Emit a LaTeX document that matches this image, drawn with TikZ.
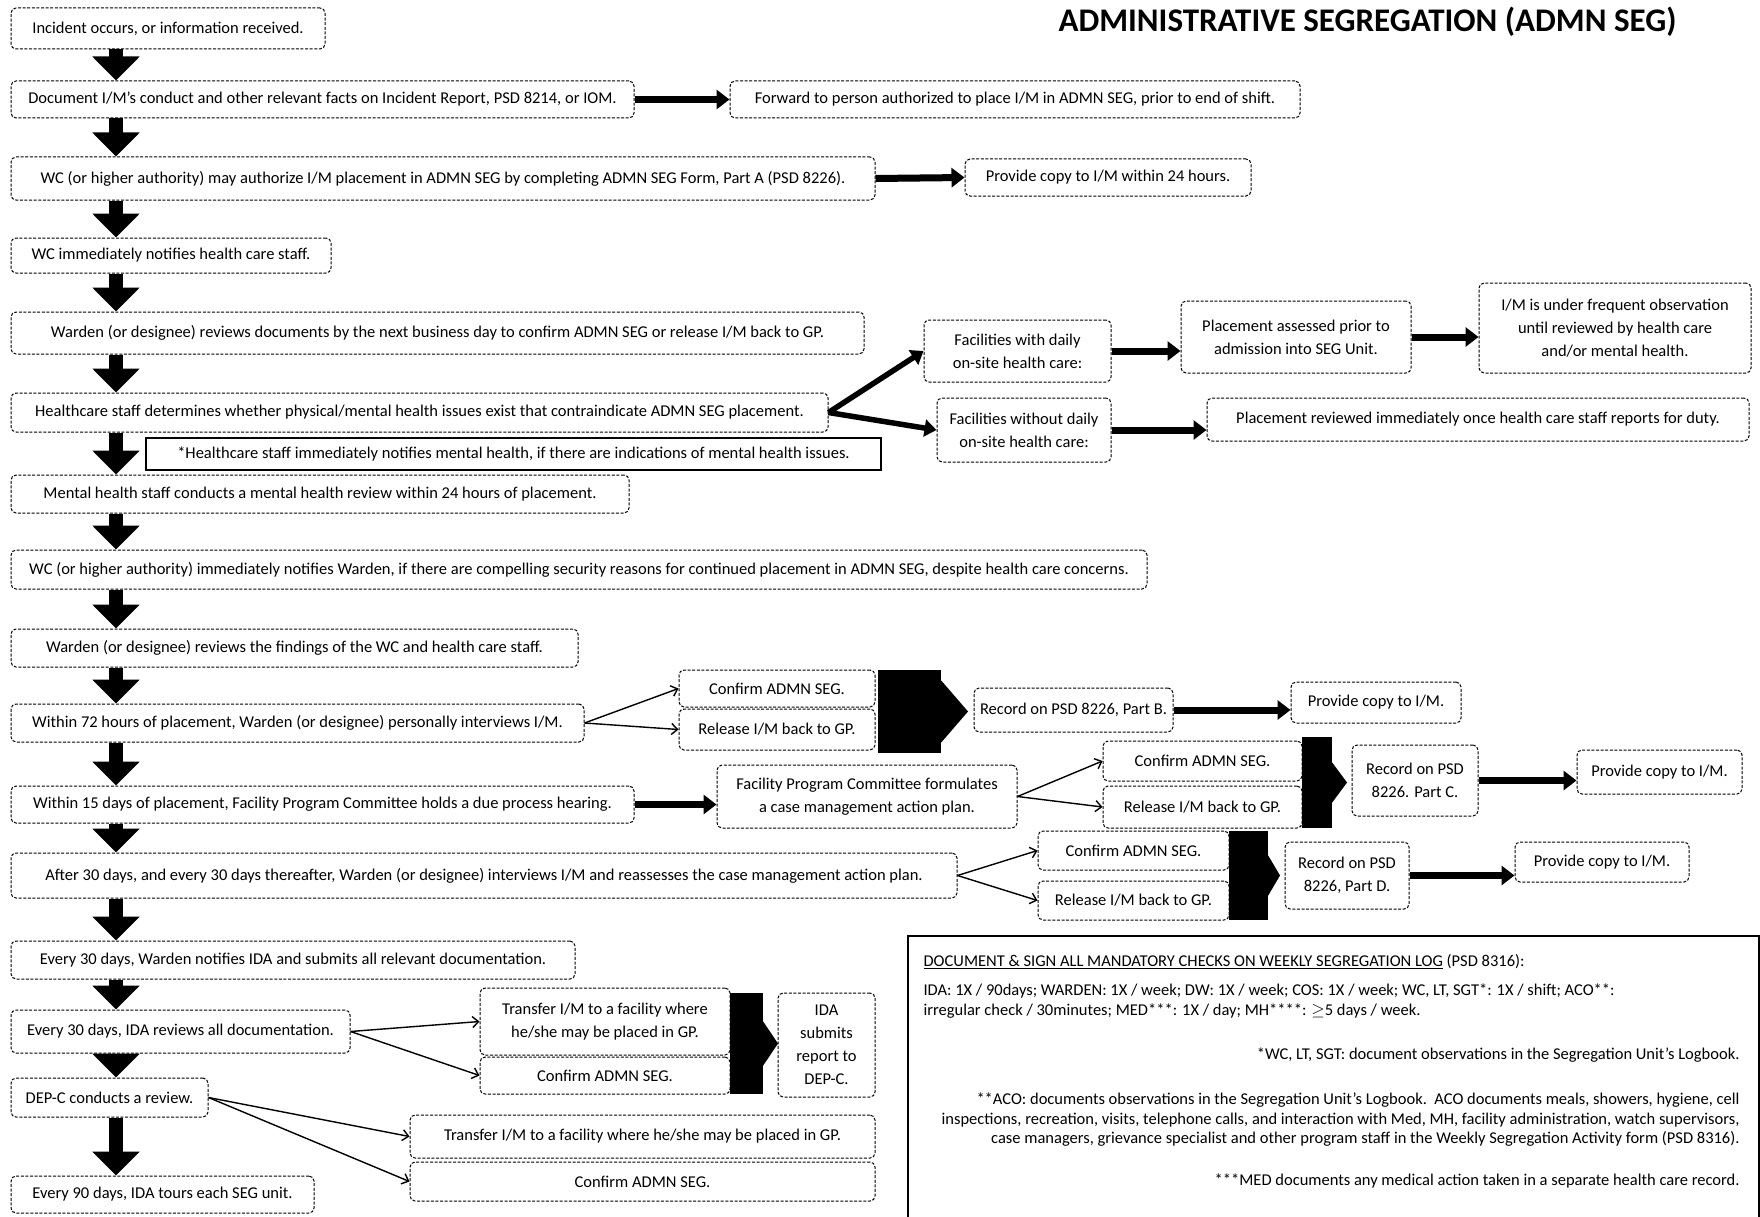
\documentclass[tikz,border=0pt]{standalone}
\usepackage{fontspec}
\setmainfont{Carlito}
\usetikzlibrary{arrows.meta}

\begin{document}
\begin{tikzpicture}[scale=1.000000,x=1pt,y=-1pt,
  every node/.style={font=\fontsize{16.5}{23}\selectfont},
  stepbox/.style={draw, dash pattern=on 3pt off 1.6pt, rounded corners=5pt, line width=1pt, inner sep=2pt, align=center},
  notebox/.style={draw, line width=1.8pt, inner sep=2pt},
  blockbar/.style={fill=black, inner sep=0pt},
  dnarrow/.style={-{Triangle[width=46pt,length=24pt]}, line width=14pt},
  rtarrow/.style={-{Triangle[width=19pt,length=13pt]}, line width=7pt},
  diagarrow/.style={-{Triangle[width=17pt,length=12pt]}, line width=5.5pt},
  thinarrow/.style={-{Straight Barb[length=6pt,width=11pt]}, line width=1.4pt}]
\useasboundingbox (0,0) rectangle (1760,1217);
\node[font=\bfseries\fontsize{33}{36}\selectfont, anchor=east] (title) at (1680,22) {ADMINISTRATIVE SEGREGATION (ADMN SEG)};
% Drawing the main column
\node[stepbox, minimum width=314, minimum height=41] (inc) at (168,28.5) {Incident occurs, or information received.};
\node[stepbox, minimum width=623, minimum height=37] (docu) at (322.5,99.5) {Document I/M's conduct and other relevant facts on Incident Report, PSD 8214, or IOM.};
\node[stepbox, minimum width=864, minimum height=43] (auth) at (443,178.5) {WC (or higher authority) may authorize I/M placement in ADMN SEG by completing ADMN SEG Form, Part A (PSD 8226).};
\node[stepbox, minimum width=320, minimum height=35] (notify) at (171,255.5) {WC immediately notifies health care staff.};
\node[stepbox, minimum width=853, minimum height=42] (review) at (437.5,333) {Warden (or designee) reviews documents by the next business day to confirm ADMN SEG or release I/M back to GP.};
\node[stepbox, minimum width=817, minimum height=39] (hcare) at (419.5,412.5) {Healthcare staff determines whether physical/mental health issues exist that contraindicate ADMN SEG placement.};
\node[notebox, minimum width=735, minimum height=32] (mhnote) at (513.5,454) {*Healthcare staff immediately notifies mental health, if there are indications of mental health issues.};
\node[stepbox, minimum width=618, minimum height=38] (mhrev) at (320,494) {Mental health staff conducts a mental health review within 24 hours of placement.};
\node[stepbox, minimum width=1136, minimum height=39] (secur) at (579,569.5) {WC (or higher authority) immediately notifies Warden, if there are compelling security reasons for continued placement in ADMN SEG, despite health care concerns.};
\node[stepbox, minimum width=567, minimum height=38] (findings) at (294.5,648) {Warden (or designee) reviews the findings of the WC and health care staff.};
\node[stepbox, minimum width=573, minimum height=38] (int72) at (297.5,723) {Within 72 hours of placement, Warden (or designee) personally interviews I/M.};
\node[stepbox, minimum width=623, minimum height=37] (hear15) at (322.5,804.5) {Within 15 days of placement, Facility Program Committee holds a due process hearing.};
\node[stepbox, minimum width=946, minimum height=45] (int30) at (484,875.5) {After 30 days, and every 30 days thereafter, Warden (or designee) interviews I/M and reassesses the case management action plan.};
\node[stepbox, minimum width=564, minimum height=38] (ida30) at (293,960) {Every 30 days, Warden notifies IDA and submits all relevant documentation.};
\node[stepbox, minimum width=339, minimum height=43] (idarev) at (180.5,1031.5) {Every 30 days, IDA reviews all documentation.};
\node[stepbox, minimum width=197, minimum height=39] (depc) at (109.5,1097.5) {DEP-C conducts a review.};
\node[stepbox, minimum width=303, minimum height=37] (tour90) at (162.5,1194.5) {Every 90 days, IDA tours each SEG unit.};
% Drawing the side branches
\node[stepbox, minimum width=570, minimum height=37] (fwd) at (1015,99.5) {Forward to person authorized to place I/M in ADMN SEG, prior to end of shift.};
\node[stepbox, minimum width=286, minimum height=37] (copy24) at (1108,177.5) {Provide copy to I/M within 24 hours.};
\node[stepbox, minimum width=187, minimum height=62] (facwith) at (1017.5,351) {Facilities with daily\\on-site health care:};
\node[stepbox, minimum width=230, minimum height=72] (assessed) at (1296,337) {Placement assessed prior to\\admission into SEG Unit.};
\node[stepbox, minimum width=272, minimum height=90] (observ) at (1615,328) {I/M is under frequent observation\\until reviewed by health care\\and/or mental health.};
\node[stepbox, minimum width=174, minimum height=64] (facwout) at (1024,430) {Facilities without daily\\on-site health care:};
\node[stepbox, minimum width=542, minimum height=43] (reviewed) at (1478,419.5) {Placement reviewed immediately once health care staff reports for duty.};
% Part B
\node[stepbox, minimum width=196, minimum height=37] (confB) at (777,688.5) {Confirm ADMN SEG.};
\node[stepbox, minimum width=196, minimum height=41] (relB) at (777,729.5) {Release I/M back to GP.};
\node[blockbar, minimum width=63, minimum height=83] (blkB) at (909.5,711.5) {};
\coordinate (tipB) at (968,711.5);
\node[stepbox, minimum width=199, minimum height=44] (recB) at (1073.5,710) {Record on PSD 8226, Part B.};
\node[stepbox, minimum width=170, minimum height=41] (provB) at (1376,702.5) {Provide copy to I/M.};
% Part C
\node[stepbox, minimum width=300, minimum height=63] (fpc) at (867,796.5) {Facility Program Committee formulates\\a case management action plan.};
\node[stepbox, minimum width=199, minimum height=40] (confC) at (1202.5,761) {Confirm ADMN SEG.};
\node[stepbox, minimum width=199, minimum height=42] (relC) at (1202.5,807) {Release I/M back to GP.};
\node[blockbar, minimum width=30, minimum height=91] (blkC) at (1317,782.5) {};
\coordinate (tipC) at (1347,782.5);
\node[stepbox, minimum width=126, minimum height=71] (recC) at (1415,780.5) {Record on PSD\\8226. Part C.};
\node[stepbox, minimum width=165, minimum height=44] (provC) at (1659.5,772) {Provide copy to I/M.};
% Part D
\node[stepbox, minimum width=191, minimum height=39] (confD) at (1133.5,850.5) {Confirm ADMN SEG.};
\node[stepbox, minimum width=191, minimum height=39] (relD) at (1133.5,900.5) {Release I/M back to GP.};
\node[blockbar, minimum width=39, minimum height=89] (blkD) at (1248.5,875.5) {};
\coordinate (tipD) at (1280,875.5);
\node[stepbox, minimum width=124, minimum height=67] (recD) at (1347,875.5) {Record on PSD\\8226, Part D.};
\node[stepbox, minimum width=174, minimum height=40] (provD) at (1602,862) {Provide copy to I/M.};
% IDA review
\node[stepbox, minimum width=250, minimum height=67] (transE) at (605,1021.5) {Transfer I/M to a facility where\\he/she may be placed in GP.};
\node[stepbox, minimum width=250, minimum height=37] (confE) at (605,1075.5) {Confirm ADMN SEG.};
\node[blockbar, minimum width=33, minimum height=101] (blkE) at (746.5,1043.5) {};
\coordinate (tipE) at (778,1043.5);
\node[stepbox, minimum width=97, minimum height=104] (idarep) at (826.5,1045) {IDA\\submits\\report to\\DEP-C.};
% DEP-C review
\node[stepbox, minimum width=465, minimum height=43] (transF) at (642.5,1136.5) {Transfer I/M to a facility where he/she may be placed in GP.};
\node[stepbox, minimum width=465, minimum height=39] (confF) at (642.5,1181.5) {Confirm ADMN SEG.};
% Log box
\node[draw, line width=2.2pt, inner sep=0pt, anchor=north west, minimum width=851, minimum height=300] (logbox) at (907,935) {};
\node[anchor=west] (loghead) at (920,962) {\underline{DOCUMENT \& SIGN ALL MANDATORY CHECKS ON WEEKLY SEGREGATION LOG} (PSD 8316):};
\node[anchor=west] (logfreqa) at (920,991) {IDA: 1X / 90days; WARDEN: 1X / week; DW: 1X / week; COS: 1X / week; WC, LT, SGT*: 1X / shift; ACO**:};
\node[anchor=west] (logfreqb) at (920,1011) {irregular check / 30minutes; MED***: 1X / day; MH****: $\geq$5 days / week.};
\node[anchor=east] (logwc) at (1743,1055) {*WC, LT, SGT: document observations in the Segregation Unit's Logbook.};
\node[anchor=east] (logacoa) at (1743,1100) {**ACO: documents observations in the Segregation Unit's Logbook.\ \ ACO documents meals, showers, hygiene, cell};
\node[anchor=east] (logacob) at (1743,1120) {inspections, recreation, visits, telephone calls, and interaction with Med, MH, facility administration, watch supervisors,};
\node[anchor=east] (logacoc) at (1743,1139) {case managers, grievance specialist and other program staff in the Weekly Segregation Activity form (PSD 8316).};
\node[anchor=east] (logmed) at (1743,1181) {***MED documents any medical action taken in a separate health care record.};
% Done with boxes; drawing arrows
\coordinate (spine) at (116,0);
\foreach \a/\b in {inc/docu, docu/auth, auth/notify, notify/review, review/hcare, hcare/mhrev, mhrev/secur, secur/findings, findings/int72, int72/hear15, hear15/int30, int30/ida30, ida30/idarev, idarev/depc, depc/tour90}
  \draw[dnarrow] (\a.south -| spine) -- (\b.north -| spine);
\draw[rtarrow] (docu.east) -- (fwd.west);
\draw[rtarrow] (auth.east) -- (copy24.west);
\draw[diagarrow] (hcare.east) -- (facwith.west);
\draw[diagarrow] (hcare.east) -- (facwout.west);
\draw[rtarrow] (facwith.east) -- (facwith.east -| assessed.west);
\draw[rtarrow] (assessed.east) -- (assessed.east -| observ.west);
\draw[rtarrow] (facwout.east) -- (facwout.east -| reviewed.west);
\draw[thinarrow] (int72.east) -- (confB.west);
\draw[thinarrow] (int72.east) -- (relB.west);
\fill ([yshift=31pt]blkB.east) -- (tipB) -- ([yshift=-31pt]blkB.east) -- cycle;
\draw[rtarrow] (recB.east) -- (recB.east -| provB.west);
\draw[rtarrow] (hear15.east) -- (hear15.east -| fpc.west);
\draw[thinarrow] (fpc.east) -- (confC.west);
\draw[thinarrow] (fpc.east) -- (relC.west);
\fill ([yshift=20pt]blkC.east) -- (tipC) -- ([yshift=-20pt]blkC.east) -- cycle;
\draw[rtarrow] (recC.east) -- (recC.east -| provC.west);
\draw[thinarrow] (int30.east) -- (confD.west);
\draw[thinarrow] (int30.east) -- (relD.west);
\fill ([yshift=20pt]blkD.east) -- (tipD) -- ([yshift=-20pt]blkD.east) -- cycle;
\draw[rtarrow] (recD.east) -- (recD.east -| provD.west);
\draw[thinarrow] (idarev.east) -- (transE.west);
\draw[thinarrow] (idarev.east) -- (confE.west);
\fill ([yshift=22pt]blkE.east) -- (tipE) -- ([yshift=-22pt]blkE.east) -- cycle;
\draw[thinarrow] (depc.east) -- (transF.west);
\draw[thinarrow] (depc.east) -- (confF.west);
% Done with arrows
\end{tikzpicture}
\end{document}
